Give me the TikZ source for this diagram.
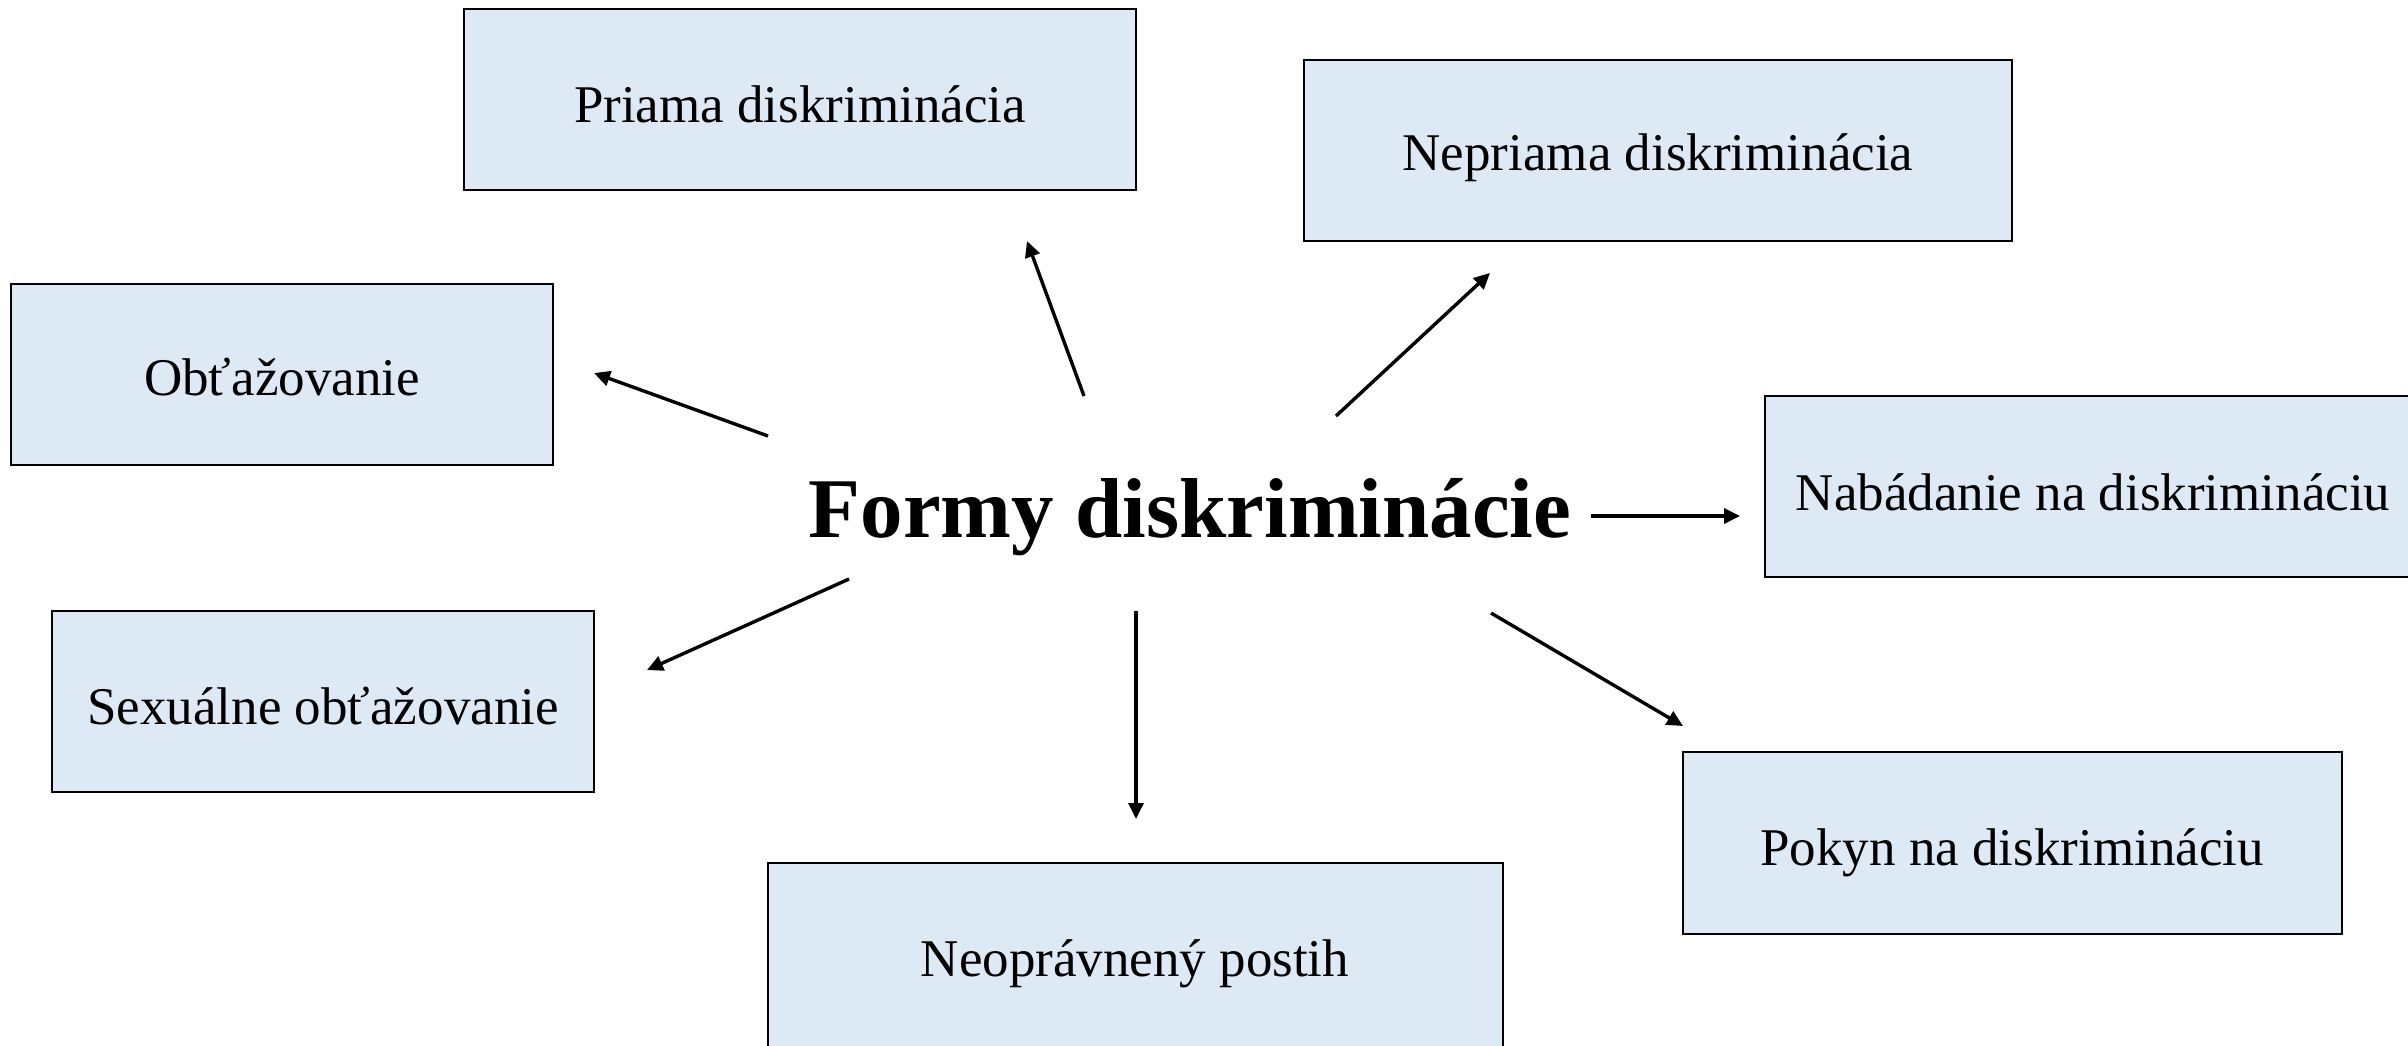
\documentclass[tikz,border=0pt]{standalone}
\usepackage{fontspec}
\setmainfont{Liberation Serif}
\usetikzlibrary{arrows.meta}
\definecolor{boxfill}{RGB}{222,233,246}
\tikzset{
  formbox/.style={draw=black, line width=1.25pt, fill=boxfill},
  boxtext/.style={font=\fontsize{26.5}{30}\selectfont, inner sep=0pt},
  conn/.style={line width=1.7pt, -{Triangle[length=8pt,width=7.5pt]}}
}
\begin{document}
\begin{tikzpicture}[x=0.5pt,y=-0.5pt]
\useasboundingbox (0,0) rectangle (2408,1045);
\clip (0,0) rectangle (2408,1045);
% boxes
\draw[formbox] (464,9) rectangle (1136,190);
\node[boxtext] (priama) at (800,104) {Priama diskriminácia};
\draw[formbox] (1304,60) rectangle (2012,241);
\node[boxtext] (nepriama) at (1658,158) {Nepriama diskriminácia};
\draw[formbox] (11,284) rectangle (553,465);
\node[boxtext] (obtaz) at (282,377) {Obťažovanie};
\draw[formbox] (1765,396) rectangle (2422,577);
\node[boxtext] (nabad) at (2093,492) {Nabádanie na diskrimináciu};
\draw[formbox] (52,611) rectangle (594,792);
\node[boxtext] (sexual) at (323,706) {Sexuálne obťažovanie};
\draw[formbox] (1683,752) rectangle (2342,934);
\node[boxtext] (pokyn) at (2012,853) {Pokyn na diskrimináciu};
\draw[formbox] (768,863) rectangle (1503,1052);
\node[boxtext] (neopr) at (1135,964) {Neoprávnený postih};
% center
\node[font=\fontsize{42.5}{48}\selectfont\bfseries, inner sep=0pt] (center) at (1190,517) {Formy diskriminácie};
% connector endpoints
\coordinate (s1) at (1084,396); \coordinate (e1) at (1027,241);
\coordinate (s2) at (1336,416); \coordinate (e2) at (1490,273);
\coordinate (s3) at (768,436);  \coordinate (e3) at (594,373);
\coordinate (s4) at (1591,516); \coordinate (e4) at (1740,516);
\coordinate (s5) at (849,579);  \coordinate (e5) at (647,670);
\coordinate (s6) at (1136,611); \coordinate (e6) at (1136,819);
\coordinate (s7) at (1491,613); \coordinate (e7) at (1683,726);
\draw[conn] (s1) -- (e1);
\draw[conn] (s2) -- (e2);
\draw[conn] (s3) -- (e3);
\draw[conn] (s4) -- (e4);
\draw[conn] (s5) -- (e5);
\draw[conn] (s6) -- (e6);
\draw[conn] (s7) -- (e7);
\end{tikzpicture}
\end{document}
